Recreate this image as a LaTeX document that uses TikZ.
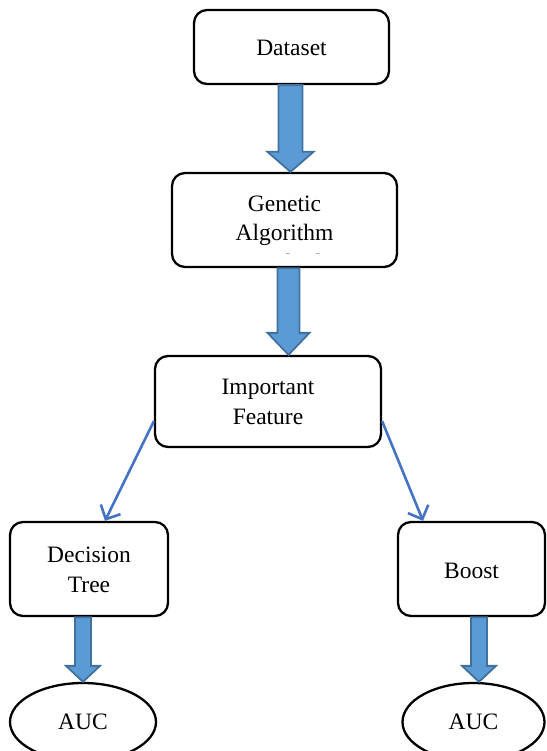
\documentclass[tikz,border=0pt]{standalone}
\usepackage{fontspec}
\setmainfont{Liberation Serif}
\usetikzlibrary{calc,arrows.meta,shapes.geometric}
\definecolor{blockfill}{HTML}{5B9BD5}
\definecolor{blockline}{HTML}{41719C}
\definecolor{thinblue}{HTML}{4472C4}
\newcommand\blockarrow[5]{%
  \draw[blockarr] let \p1=(#1), \p2=(#2) in
    (\x1-#3pt,\y1) -- (\x1-#3pt,\y2+#5pt) -- (\x1-#4pt,\y2+#5pt) -- (\x1,\y2)
    -- (\x1+#4pt,\y2+#5pt) -- (\x1+#3pt,\y2+#5pt) -- (\x1+#3pt,\y1) -- cycle;}
\tikzset{
  box/.style={draw=black, line width=2.3pt, rounded corners=13pt, fill=white,
    inner sep=0pt, align=center},
  oval/.style={draw=black, line width=2.3pt, ellipse, fill=white, inner sep=0pt},
  txt/.style={inner sep=0pt, align=center, font=\fontsize{23.5}{29.5}\selectfont},
  blockarr/.style={fill=blockfill, draw=blockline, line width=1.8pt, line join=miter},
  thinarr/.style={draw=thinblue, line width=2.6pt,
    -{Straight Barb[length=11pt,width=22pt,line width=2.6pt]}},
}
\begin{document}
\begin{tikzpicture}[x=1pt,y=1pt]
\useasboundingbox (0,0) rectangle (546,-751);
\clip (0,0) rectangle (546,-751);
% boxes
\node[box, minimum width=195, minimum height=74] (ds) at (291.5,-47) {};
\node[txt] (dst) at (291.5,-48) {Dataset};
\node[box, minimum width=225, minimum height=94] (ga) at (284.5,-220) {};
\begin{scope}
  \clip (172,-170) rectangle (397,-253);
  \node[txt] (gat) at (284.5,-233) {Genetic\\Algorithm\\Method};
\end{scope}
\node[box, minimum width=226, minimum height=91] (imp) at (268,-401.5) {};
\node[txt] (impt) at (268,-402) {Important\\Feature};
\node[box, minimum width=158, minimum height=94] (dec) at (89,-569) {};
\node[txt] (dect) at (89,-570) {Decision\\Tree};
\node[box, minimum width=147, minimum height=94] (bst) at (471.5,-569) {};
\node[txt] (bstt) at (471.5,-571) {Boost};
\node[oval, minimum width=146, minimum height=78] (auc1) at (83,-722) {};
\node[txt] (auc1t) at (83,-722) {AUC};
\node[oval, minimum width=142, minimum height=78] (auc2) at (473.5,-722) {};
\node[txt] (auc2t) at (473.5,-722) {AUC};
% block arrows
\coordinate (a1s) at ($(ds.south)+(-1,0)$);
\coordinate (a2s) at ($(ga.south)+(4,0)$);
\coordinate (a3s) at ($(dec.south)+(-6,0)$);
\coordinate (a4s) at ($(bst.south)+(7.5,0)$);
\blockarrow{a1s}{ga.north}{12}{23}{20}
\blockarrow{a2s}{imp.north}{11}{21}{22}
\blockarrow{a3s}{auc1.north}{8}{17}{16}
\blockarrow{a4s}{auc2.north}{8}{17}{16}
% thin arrows
\draw[thinarr] ($(imp.south west)+(0,27)$) -- ($(dec.north)+(16,0)$);
\draw[thinarr] ($(imp.south east)+(0,27)$) -- ($(bst.north)+(-48.5,0)$);
\end{tikzpicture}
\end{document}
